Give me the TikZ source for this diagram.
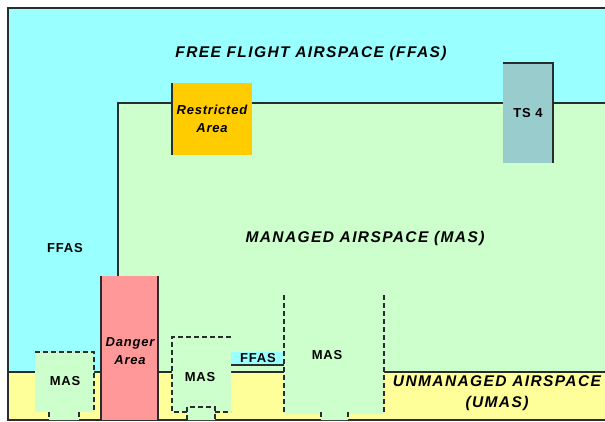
\documentclass[tikz,border=0pt]{standalone}
\usepackage{fontspec}
\newfontfamily\zonefont{Liberation Sans}[LetterSpace=9]
\newfontfamily\tagfont{Liberation Sans}[LetterSpace=6]
\definecolor{ffas}{RGB}{153,255,255}
\definecolor{mas}{RGB}{204,255,204}
\definecolor{umas}{RGB}{255,255,153}
\definecolor{danger}{RGB}{255,153,153}
\definecolor{restrict}{RGB}{255,204,0}
\definecolor{tsa}{RGB}{153,204,204}
\definecolor{rim}{RGB}{40,45,45}

\begin{document}
\begin{tikzpicture}[x=1pt, y=-1pt,
    edge/.style={draw=rim, line width=1.5pt},
    dashline/.style={draw=rim, line width=1.6pt, dash pattern=on 5pt off 3pt},
    head/.style={font=\zonefont\fontsize{15.5}{21}\selectfont\bfseries\itshape,
                 align=center, inner sep=0pt},
    lbl/.style={font=\tagfont\fontsize{13}{18}\selectfont\bfseries,
                align=center, inner sep=0pt},
    ilbl/.style={lbl, font=\tagfont\fontsize{13}{18}\selectfont\bfseries\itshape}]

    \useasboundingbox (0,0) rectangle (605,422);

    % ── free flight airspace ─────────────────────────────────
    \fill[ffas] (8,8) rectangle (605,420);
    \node[head] (ffas) at (311,53) {FREE FLIGHT AIRSPACE (FFAS)};
    \node[lbl] (ffasl) at (65,248) {FFAS};

    % ── managed airspace ─────────────────────────────────────
    \fill[mas] (118,103) rectangle (605,372);
    \draw[edge] (118,276) -- (118,103) -- (605,103);
    \node[head] (masl) at (365,238) {MANAGED AIRSPACE (MAS)};

    % ── unmanaged airspace ───────────────────────────────────
    \fill[umas] (8,372) rectangle (605,420);
    \draw[edge] (8,372) -- (605,372);
    \node[head] (umas) at (497,393) {UNMANAGED AIRSPACE\\(UMAS)};

    % outer frame
    \draw[edge] (605,8) -- (8,8) -- (8,420) -- (605,420);

    % ── restricted area / TSA ────────────────────────────────
    \fill[restrict] (172,83) rectangle (252,155);
    \draw[edge] (172,83) -- (172,155);
    \node[ilbl] (ra) at (212,119) {Restricted\\Area};
    \fill[tsa] (503,63) rectangle (553,163);
    \draw[edge] (503,63) -- (553,63) -- (553,163);
    \node[lbl] (ts4) at (528,113) {TS 4};

    % ── danger area ──────────────────────────────────────────
    \fill[danger] (101,276) rectangle (158,420);
    \draw[edge] (101,420) -- (101,276);
    \draw[edge] (158,276) -- (158,420);
    \node[ilbl] (da) at (130,351) {Danger\\Area};

    % ── MAS pockets ──────────────────────────────────────────
    \fill[mas] (35,352) rectangle (94,412) (49,412) rectangle (79,420);
    \draw[dashline] (35,352) -- (94,352) -- (94,412);
    \draw[dashline] (49,412) -- (49,420) (79,412) -- (79,420);
    \node[lbl] (mas1) at (65,381) {MAS};

    \fill[mas] (172,337) rectangle (231,412) (187,407) rectangle (215,420);
    \draw[dashline] (231,337) -- (172,337) -- (172,412) -- (187,412);
    \draw[dashline] (215,412) -- (231,412);
    \draw[dashline] (187,420) -- (187,407) -- (215,407) -- (215,420);
    \node[lbl] (mas2) at (200,377) {MAS};

    \fill[ffas] (231,352) rectangle (284,365);
    \draw[edge] (231,365) -- (284,365);
    \node[lbl] (ffass) at (258,358) {FFAS};

    \fill[mas] (284,295) rectangle (384,414) (321,412) rectangle (348,420);
    \draw[dashline] (284,295) -- (284,414) (384,295) -- (384,413);
    \draw[dashline] (321,412) -- (321,420) (348,412) -- (348,420);
    \node[lbl] (mas3) at (327,355) {MAS};

  \end{tikzpicture}
\end{document}
